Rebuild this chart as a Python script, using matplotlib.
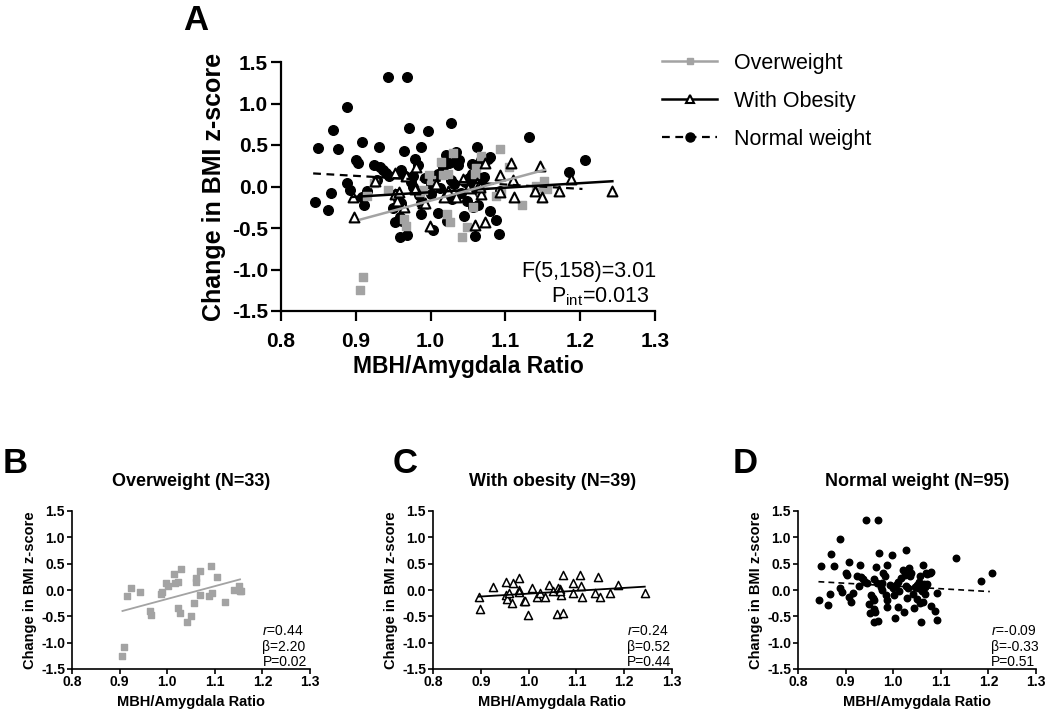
import numpy as np
import matplotlib
matplotlib.use('Agg')
from matplotlib import pyplot as plt
from matplotlib.lines import Line2D

plt.rcParams['font.family'] = ['Liberation Sans', 'DejaVu Sans']
plt.rcParams['mathtext.fontset'] = 'custom'
plt.rcParams['mathtext.rm'] = 'Liberation Sans'
plt.rcParams['mathtext.it'] = 'Liberation Sans:italic'

# ---- data ----
ow_x = [0.906, 0.909, 0.915, 0.924, 0.943, 0.964, 0.967, 0.986, 0.990, 0.998, 1.001,
        1.014, 1.016, 1.023, 1.022, 1.026, 1.030, 1.042, 1.049, 1.057, 1.060, 1.061,
        1.068, 1.068, 1.087, 1.093, 1.094, 1.105, 1.122, 1.141, 1.151, 1.152, 1.155]
ow_y = [-1.245, -1.087, -0.114, 0.038, -0.044, -0.39, -0.48, -0.07, -0.038, 0.133, 0.082,
        0.30, 0.139, 0.152, -0.335, -0.43, 0.40, -0.613, -0.49, -0.246, 0.152, 0.227,
        0.366, -0.088, -0.114, 0.449, -0.057, 0.24, -0.227, 0.006, 0.069, -0.013, -0.025]

ob_x = [0.896, 0.898, 0.926, 0.953, 0.952, 0.955, 0.958, 0.965, 0.967, 0.979, 0.980,
        0.979, 0.990, 0.992, 0.999, 1.007, 1.018, 1.023, 1.034, 1.043, 1.050, 1.059,
        1.062, 1.065, 1.068, 1.073, 1.073, 1.093, 1.093, 1.108, 1.110, 1.112, 1.139,
        1.146, 1.149, 1.171, 1.188, 1.243, 1.066]
ob_y = [-0.126, -0.365, 0.063, 0.158, -0.095, -0.176, -0.063, -0.252, 0.126, 0.0, 0.233,
        -0.03, -0.20, -0.20, -0.48, 0.03, -0.126, -0.05, -0.126, 0.088, -0.02, -0.46,
        0.038, 0.013, -0.088, -0.43, 0.28, -0.063, 0.139, 0.28, 0.076, -0.126, -0.05,
        0.246, -0.126, -0.05, 0.088, -0.05, -0.01]

nw_x = [0.845, 0.849, 0.863, 0.867, 0.870, 0.876, 0.888, 0.888, 0.892, 0.900, 0.903,
        0.908, 0.908, 0.911, 0.915, 0.924, 0.928, 0.931, 0.932, 0.940, 0.943, 0.945,
        0.950, 0.952, 0.954, 0.959, 0.960, 0.960, 0.959, 0.964, 0.966, 0.968, 0.968,
        0.971, 0.976, 0.977, 0.979, 0.983, 0.987, 0.987, 0.987, 0.997, 1.000, 1.001,
        1.003, 1.005, 1.010, 1.010, 1.017, 1.020, 1.022, 1.025, 1.027, 1.029, 1.031,
        1.034, 1.036, 1.038, 1.041, 1.044, 1.049, 1.051, 1.053, 1.056, 1.057, 1.059,
        1.061, 1.062, 1.064, 1.066, 1.068, 1.072, 1.077, 1.080, 1.080, 1.088, 1.092,
        1.093, 1.131, 1.185, 1.207,
        0.936, 0.957, 0.962, 0.974, 0.993, 1.012, 1.027, 1.033, 1.046, 1.055, 1.063,
        1.067, 1.071, 0.985]
nw_y = [-0.19, 0.46, -0.28, -0.076, 0.68, 0.45, 0.96, 0.038, -0.038, 0.32, 0.28,
        0.54, -0.13, -0.22, -0.057, 0.26, 0.076, 0.47, 0.24, 0.16, 1.32, 0.126,
        -0.265, -0.43, -0.095, -0.365, -0.195, 0.20, -0.61, 0.43, 0.13, -0.59, 1.32,
        0.71, 0.126, 0.0, 0.33, 0.26, -0.195, 0.48, -0.33, 0.67, 0.03, -0.095,
        -0.53, 0.088, 0.15, -0.32, 0.23, 0.38, -0.42, 0.28, 0.76, -0.145, 0.03,
        0.42, 0.26, 0.32, -0.08, -0.35, -0.18, 0.10, 0.03, 0.27, -0.25, -0.60,
        -0.025, 0.47, 0.11, -0.076, 0.32, 0.12, 0.33, -0.30, 0.35, -0.40, -0.57,
        -0.06, 0.60, 0.18, 0.32,
        0.20, -0.15, -0.42, 0.05, 0.10, -0.02, 0.08, 0.30, 0.05, 0.15, -0.22,
        0.05, 0.30, -0.10]

# fitted lines (slope, intercept) and their x range, as drawn in the figure
ow_fit = (2.43, -2.60, 0.906, 1.153)
ob_fit = (0.545, -0.614, 0.896, 1.243)
nw_fit = (-0.52, 0.596, 0.843, 1.203)

ow_stats = ['0.44', '2.20', '0.02']
ob_stats = ['0.24', '0.52', '0.44']
nw_stats = ['-0.09', '-0.33', '0.51']

GRAY = '#a3a3a3'
W, H = 1050, 721


def px_axes(fig, left, right, top, bottom):
    return fig.add_axes([left / W, 1 - bottom / H, (right - left) / W, (bottom - top) / H])


def style_axes(ax, lw, tick_len, tick_fs, xpad, ypad):
    ax.set_xlim(0.8, 1.3)
    ax.set_ylim(-1.5, 1.5)
    ax.set_xticks(np.arange(0.8, 1.31, 0.1))
    ax.set_yticks(np.arange(-1.5, 1.51, 0.5))
    ax.xaxis.set_major_formatter(plt.FormatStrFormatter('%.1f'))
    ax.yaxis.set_major_formatter(plt.FormatStrFormatter('%.1f'))
    for s in ['top', 'right']:
        ax.spines[s].set_visible(False)
    for s in ['left', 'bottom']:
        ax.spines[s].set_linewidth(lw)
    ax.tick_params(direction='out', length=tick_len, width=lw, labelsize=tick_fs)
    ax.tick_params(axis='x', pad=xpad)
    ax.tick_params(axis='y', pad=ypad)
    for lab in ax.get_xticklabels() + ax.get_yticklabels():
        lab.set_fontweight('bold')


def fit_line(ax, fit, **kw):
    m, b, x0, x1 = fit
    xs = np.array([x0, x1])
    ax.plot(xs, m * xs + b, **kw)


fig = plt.figure(figsize=(W / 100, H / 100), dpi=100)

# ---- panel A ----
axA = px_axes(fig, 281, 655, 62, 311)
style_axes(axA, 1.6, 7, 15, 8, 2.5)
axA.scatter(nw_x, nw_y, s=48, marker='o', color='black', zorder=3, clip_on=False)
axA.scatter(ow_x, ow_y, s=26, marker='s', color=GRAY, zorder=4, clip_on=False)
axA.scatter(ob_x, ob_y, s=50, marker='^', facecolor='white', edgecolor='black',
            linewidth=1.5, zorder=5, clip_on=False)
fit_line(axA, nw_fit, color='black', ls=(0, (3.5, 2.5)), lw=1.6, zorder=6)
fit_line(axA, ob_fit, color='black', lw=1.8, zorder=6)
fit_line(axA, ow_fit, color=GRAY, lw=1.8, zorder=6)
axA.set_xlabel('MBH/Amygdala Ratio', fontsize=16.5, fontweight='bold', labelpad=3)
axA.set_ylabel('Change in BMI z-score', fontsize=18, fontweight='bold', labelpad=4)
axA.text(1.005, 0.16, 'F(5,158)=3.01', transform=axA.transAxes, ha='right', va='center',
         fontsize=15.5)
axA.text(0.985, 0.058, r'P$_{\mathrm{int}}$=0.013', transform=axA.transAxes, ha='right',
         va='center', fontsize=15.5)

handles = [
    Line2D([], [], color=GRAY, lw=1.8, marker='s', ms=5, markerfacecolor=GRAY, markeredgecolor=GRAY),
    Line2D([], [], color='black', lw=1.8, marker='^', ms=6, markerfacecolor='white',
           markeredgecolor='black', markeredgewidth=1.5),
    Line2D([], [], color='black', lw=1.6, ls=(0, (3.5, 2.5)), marker='o', ms=6.5),
]
fig.legend(handles, ['Overweight', 'With Obesity', 'Normal weight'], loc='upper left',
           bbox_to_anchor=(662 / W, 1 - 53 / H), frameon=False, fontsize=15.5, numpoints=1,
           handlelength=2.57, handletextpad=0.78, labelspacing=0.78, borderpad=0, borderaxespad=0)

# ---- panels B, C, D ----
small = [
    ('B', 72, 310, 'Overweight (N=33)', ow_x, ow_y, ow_fit, ow_stats,
     dict(s=17, marker='s', color=GRAY), dict(color=GRAY, lw=1.3)),
    ('C', 433, 672, 'With obesity (N=39)', ob_x, ob_y, ob_fit, ob_stats,
     dict(s=34, marker='^', facecolor='white', edgecolor='black', linewidth=1.1),
     dict(color='black', lw=1.3)),
    ('D', 798, 1036, 'Normal weight (N=95)', nw_x, nw_y, nw_fit, nw_stats,
     dict(s=22, marker='o', color='black'), dict(color='black', lw=1.2, ls=(0, (3.5, 2.5)))),
]
letter_x = {'B': 3, 'C': 393, 'D': 733}
for letter, l, r, title, xs, ys, fit, stats, skw, lkw in small:
    ax = px_axes(fig, l, r, 511, 669)
    style_axes(ax, 1.2, 3.5, 10, 0.8, 1.5)
    ax.scatter(xs, ys, zorder=3, clip_on=False, **skw)
    fit_line(ax, fit, zorder=4, **lkw)
    ax.set_xlabel('MBH/Amygdala Ratio', fontsize=10.5, fontweight='bold', labelpad=4.5)
    ax.set_ylabel('Change in BMI z-score', fontsize=10.5, fontweight='bold', labelpad=3)
    ax.text(0.5, 1 + 29 / 158, title, transform=ax.transAxes, ha='center', va='center',
            fontsize=13, fontweight='bold')
    tx = 1.2 if letter == 'B' else 1.205
    ax.text(tx, -0.78, r'$\it{r}$=' + stats[0], ha='left', va='center', fontsize=10)
    ax.text(tx, -1.08, '\u03b2=' + stats[1], ha='left', va='center', fontsize=10)
    ax.text(tx, -1.37, 'P=' + stats[2], ha='left', va='center', fontsize=10)
    fig.text(letter_x[letter] / W, 1 - 463 / H, letter, ha='left', va='center',
             fontsize=25, fontweight='bold')

fig.text(183 / W, 1 - 20 / H, 'A', ha='left', va='center', fontsize=25, fontweight='bold')

fig.savefig('out.png', dpi=100)
